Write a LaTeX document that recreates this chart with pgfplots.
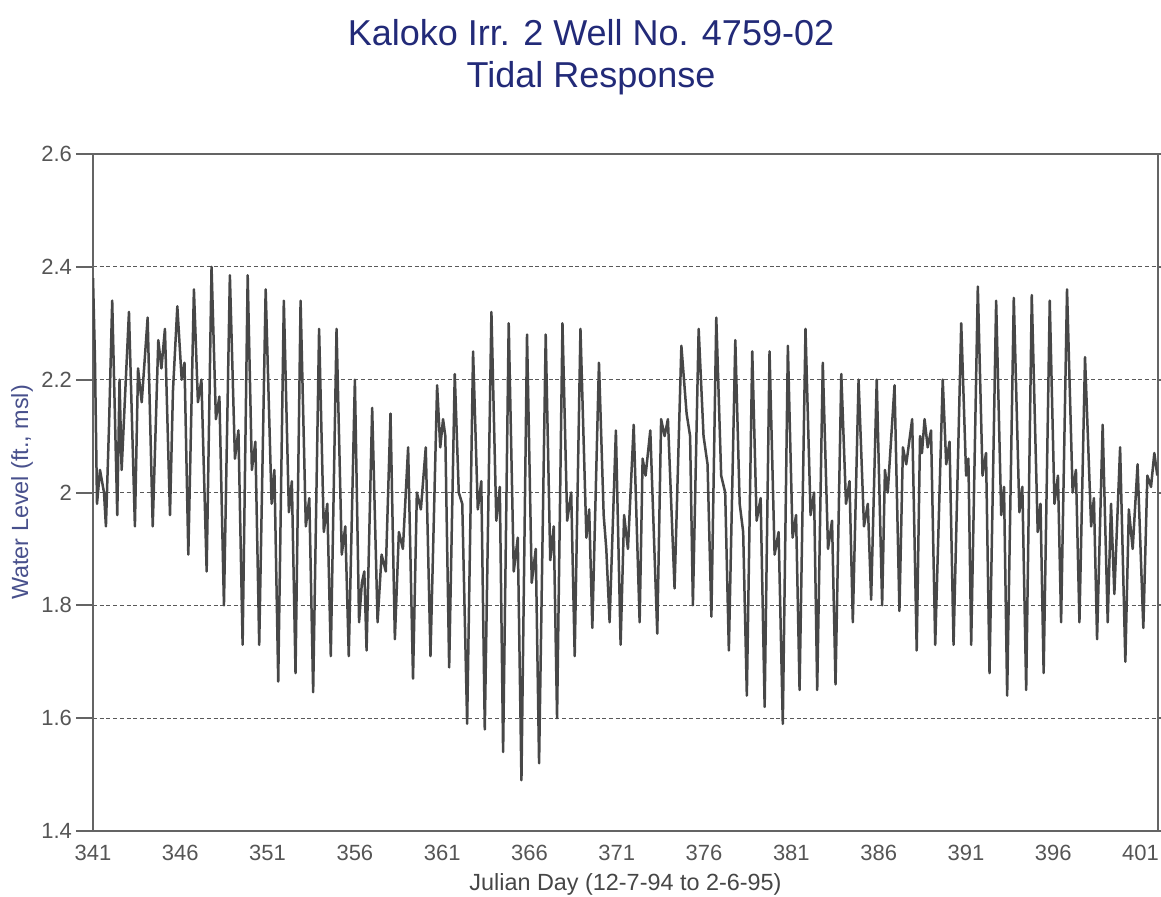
\documentclass[border=0pt]{standalone}
\usepackage{fontspec}
\setmainfont{Liberation Sans}
\usepackage{pgfplots}
\pgfplotsset{compat=1.18}
\definecolor{titleblue}{RGB}{34,42,120}
\definecolor{ylabblue}{RGB}{72,80,140}
\definecolor{labgray}{RGB}{70,70,70}
\definecolor{tickgray}{RGB}{85,85,85}
\definecolor{framegray}{RGB}{100,100,100}

\begin{document}
\begin{tikzpicture}[x=1pt,y=1pt]
\useasboundingbox (0,0) rectangle (580.5,448);
\node[anchor=base,text=titleblue,font=\fontsize{18}{21}\selectfont] at (295.5,425) {Kaloko Irr. 2 Well No. 4759-02};
\node[anchor=base,text=titleblue,font=\fontsize{18}{21}\selectfont] at (295.5,404) {Tidal Response};
\begin{axis}[
  at={(46.5pt,32.5pt)}, anchor=south west,
  scale only axis, width=532.5pt, height=338.5pt,
  xmin=341, xmax=402, ymin=1.4, ymax=2.6,
  xtick={341,346,351,356,361,366,371,376,381,386,391,396,401},
  ytick={1.4,1.6,1.8,2,2.2,2.4,2.6},
  tick align=outside,
  major tick length=8.5pt,
  xtick style={draw=none},
  ytick style={line width=1pt, color=framegray},
  ymajorgrids,
  grid style={dash pattern=on 2pt off 1.35pt, color=black!65, line width=0.6pt},
  axis line style={color=framegray, line width=1pt},
  tick label style={font=\fontsize{11}{13}\selectfont, text=tickgray},
  xticklabel style={yshift=5pt},
  yticklabel style={xshift=1.5pt},
  /pgf/number format/assume math mode=true,
  xlabel={Julian Day (12-7-94 to 2-6-95)},
  ylabel={Water Level (ft., msl)},
  xlabel style={at={(axis description cs:0.5,-0.0783)}, anchor=center, font=\fontsize{11.7}{14}\selectfont, text=labgray},
  ylabel style={at={(axis description cs:-0.0667,0.5)}, anchor=center, font=\fontsize{11.7}{14}\selectfont, text=ylabblue},
]
\addplot[mark=none, color=black!72, line width=1.25pt, line join=round] coordinates {
(341.00,2.38) (341.11,2.24) (341.23,1.98) (341.40,2.04) (341.63,2.00) (341.74,1.94) (341.92,2.12) (342.10,2.34)
(342.39,1.96) (342.52,2.20) (342.64,2.04) (343.06,2.32) (343.40,1.94) (343.58,2.22) (343.79,2.16) (344.13,2.31)
(344.42,1.94) (344.74,2.27) (344.92,2.22) (345.12,2.29) (345.41,1.96) (345.58,2.18) (345.83,2.33) (346.08,2.20)
(346.24,2.23) (346.46,1.89) (346.78,2.36) (347.01,2.16) (347.21,2.20) (347.51,1.86) (347.79,2.40) (348.04,2.13)
(348.24,2.17) (348.50,1.80) (348.84,2.385) (349.13,2.06) (349.33,2.11) (349.57,1.73) (349.86,2.385) (350.10,2.04)
(350.30,2.09) (350.52,1.73) (350.89,2.36) (351.23,1.98) (351.39,2.04) (351.61,1.665) (351.93,2.34) (352.22,1.965)
(352.39,2.02) (352.60,1.68) (352.89,2.34) (353.19,1.94) (353.39,1.99) (353.61,1.646) (353.95,2.29) (354.22,1.93)
(354.42,1.98) (354.62,1.71) (354.95,2.29) (355.25,1.89) (355.45,1.94) (355.65,1.71) (356.00,2.20) (356.24,1.77)
(356.40,1.84) (356.54,1.86) (356.67,1.72) (356.99,2.15) (357.30,1.77) (357.53,1.89) (357.77,1.86) (358.04,2.14)
(358.29,1.74) (358.52,1.93) (358.75,1.90) (359.05,2.08) (359.33,1.67) (359.55,2.00) (359.78,1.97) (360.06,2.08)
(360.33,1.71) (360.71,2.19) (360.89,2.08) (361.05,2.13) (361.18,2.10) (361.40,1.69) (361.72,2.21) (361.95,2.00)
(362.15,1.98) (362.43,1.59) (362.77,2.25) (363.04,1.97) (363.24,2.02) (363.44,1.58) (363.82,2.32) (364.10,1.95)
(364.30,2.01) (364.49,1.54) (364.81,2.30) (365.10,1.86) (365.33,1.92) (365.54,1.49) (365.86,2.28) (366.13,1.84)
(366.36,1.90) (366.55,1.52) (366.93,2.28) (367.19,1.88) (367.39,1.94) (367.58,1.60) (367.89,2.30) (368.16,1.95)
(368.39,2.00) (368.59,1.71) (368.92,2.29) (369.26,1.92) (369.42,1.97) (369.60,1.76) (369.98,2.23) (370.25,1.96)
(370.40,1.90) (370.59,1.77) (370.95,2.11) (371.22,1.73) (371.42,1.96) (371.64,1.90) (371.97,2.12) (372.31,1.77)
(372.48,2.06) (372.65,2.03) (372.92,2.11) (373.32,1.75) (373.54,2.13) (373.74,2.10) (373.93,2.13) (374.31,1.83)
(374.70,2.26) (375.00,2.14) (375.20,2.10) (375.36,1.80) (375.69,2.29) (375.97,2.10) (376.20,2.05) (376.42,1.78)
(376.70,2.31) (376.98,2.03) (377.21,2.00) (377.42,1.72) (377.79,2.27) (378.04,1.98) (378.24,1.93) (378.45,1.64)
(378.76,2.25) (379.01,1.95) (379.24,1.99) (379.47,1.62) (379.75,2.25) (380.04,1.89) (380.27,1.93) (380.51,1.59)
(380.80,2.26) (381.07,1.92) (381.27,1.96) (381.47,1.65) (381.81,2.29) (382.10,1.96) (382.30,2.00) (382.48,1.65)
(382.80,2.23) (383.10,1.90) (383.33,1.95) (383.53,1.66) (383.86,2.21) (384.13,1.98) (384.33,2.02) (384.52,1.77)
(384.85,2.20) (385.16,1.94) (385.38,1.98) (385.57,1.81) (385.89,2.20) (386.20,1.80) (386.36,2.04) (386.52,2.00)
(386.91,2.19) (387.19,1.79) (387.39,2.08) (387.58,2.05) (387.92,2.13) (388.18,1.72) (388.37,2.10) (388.48,2.07)
(388.63,2.13) (388.81,2.08) (389.00,2.11) (389.24,1.73) (389.67,2.20) (389.87,2.05) (390.06,2.09) (390.29,1.73)
(390.73,2.30) (391.01,2.03) (391.14,2.06) (391.30,1.73) (391.68,2.365) (391.95,2.03) (392.15,2.07) (392.35,1.68)
(392.73,2.34) (393.02,1.96) (393.18,2.01) (393.36,1.64) (393.74,2.345) (394.06,1.965) (394.23,2.01) (394.45,1.65)
(394.77,2.35) (395.11,1.93) (395.27,1.98) (395.45,1.68) (395.80,2.34) (396.07,1.98) (396.27,2.03) (396.45,1.77)
(396.79,2.36) (397.11,2.00) (397.30,2.04) (397.50,1.77) (397.82,2.24) (398.17,1.94) (398.33,1.99) (398.51,1.74)
(398.83,2.12) (399.12,1.77) (399.31,1.98) (399.50,1.82) (399.83,2.08) (400.13,1.70) (400.33,1.97) (400.55,1.90)
(400.83,2.05) (401.16,1.76) (401.39,2.03) (401.60,2.01) (401.79,2.07) (401.96,2.03)
};
\end{axis}
\end{tikzpicture}
\end{document}
